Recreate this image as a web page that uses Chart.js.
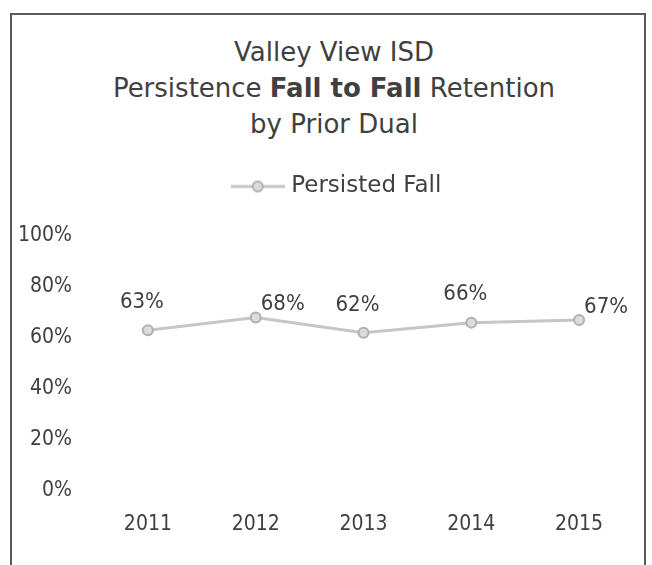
<!DOCTYPE html>
<html>
<head>
<meta charset="utf-8">
<script src="https://cdn.jsdelivr.net/npm/chart.js@4"></script>
<style>
    body { margin: 0; background: #fff; width: 652px; height: 565px; overflow: hidden; position: relative; }
    #box { position: absolute; left: 10px; top: 13px; width: 636px; height: 600px; border: 2px solid #5a5a5a; box-sizing: border-box; }
    #title { position: absolute; left: 8px; top: 34px; width: 652px; text-align: center; color: #404040;
        font-family: 'DejaVu Sans', sans-serif; font-size: 26px; line-height: 36px; }
    #wrap { position: absolute; left: 0; top: 140px; width: 652px; height: 425px; }
</style>
</head>
<body>
<div id="box"></div>
<div id="title">Valley View ISD<br>Persistence <b>Fall to Fall</b> Retention<br>by Prior Dual</div>
<div id="wrap"><canvas id="persistChart"></canvas></div>
<script>
var years = ['2011', '2012', '2013', '2014', '2015'];
var persisted = [63, 68, 62, 66, 67];
var seriesName = 'Persisted Fall';

var fontFam = "'DejaVu Sans Condensed', 'DejaVu Sans', sans-serif";
var textColor = '#404040';
var lineColor = '#c6c6c6';

// legend symbol: line with a circle in the middle
var legendIcon = document.createElement('canvas');
legendIcon.width = 54;
legendIcon.height = 14;
var ic = legendIcon.getContext('2d');
ic.strokeStyle = lineColor;
ic.lineWidth = 3;
ic.beginPath();
ic.moveTo(0, 7);
ic.lineTo(54, 7);
ic.stroke();
ic.beginPath();
ic.arc(27, 7, 5, 0, Math.PI * 2);
ic.fillStyle = '#dcdcdc';
ic.fill();
ic.lineWidth = 2;
ic.strokeStyle = '#b0b0b0';
ic.stroke();

// more room under the legend, and legend a bit right of centre
var legendGap = {
    id: 'legendGap',
    beforeInit: function (chart) {
        var fit = chart.legend.fit;
        chart.legend.fit = function () {
            fit.call(this);
            this.height += 28;
        };
    },
    afterLayout: function (chart) {
        chart.legend.left += 44;
    }
};

// percent labels next to the points
var pointLabels = {
    id: 'pointLabels',
    afterDatasetsDraw: function (chart) {
        var ctx = chart.ctx;
        var meta = chart.getDatasetMeta(0);
        var place = ['above', 'right', 'above', 'above', 'right'];
        ctx.save();
        ctx.font = '22px ' + fontFam;
        ctx.fillStyle = textColor;
        ctx.textBaseline = 'middle';
        meta.data.forEach(function (pt, i) {
            var txt = persisted[i] + '%';
            if (place[i] == 'right') {
                ctx.textAlign = 'left';
                ctx.fillText(txt, pt.x + 5, pt.y - 13);
            } else {
                ctx.textAlign = 'center';
                ctx.fillText(txt, pt.x - 6, pt.y - 28);
            }
        });
        ctx.restore();
    }
};

var persistChart = new Chart(document.getElementById('persistChart').getContext('2d'), {
    type: 'line',
    data: {
        labels: years,
        datasets: [
            {
                label: seriesName,
                data: persisted,
                borderColor: lineColor,
                borderWidth: 3,
                pointRadius: 5,
                pointBorderWidth: 2,
                pointBackgroundColor: '#dcdcdc',
                pointBorderColor: '#b0b0b0',
                pointStyle: 'circle',
                tension: 0
            }
        ]
    },
    options: {
        responsive: true,
        maintainAspectRatio: false,
        animation: false,
        layout: {
            padding: {
                left: 0,
                right: 19,
                top: 0,
                bottom: 15
            }
        },
        scales: {
            x: {
                offset: true,
                grid: { display: false },
                border: { display: false },
                ticks: {
                    color: textColor,
                    padding: 13,
                    font: { family: fontFam, size: 21 }
                }
            },
            y: {
                min: 0,
                max: 100,
                afterFit: function (scale) { scale.width = 94; },
                grid: { display: false },
                border: { display: false },
                ticks: {
                    stepSize: 20,
                    color: textColor,
                    padding: 14,
                    font: { family: fontFam, size: 21 },
                    callback: function (value) {
                        return value + '%';
                    }
                }
            }
        },
        plugins: {
            legend: {
                labels: {
                    color: textColor,
                    usePointStyle: true,
                    pointStyle: legendIcon,
                    pointStyleWidth: 44,
                    padding: 35,
                    font: { family: "'DejaVu Sans', sans-serif", size: 23 },
                    generateLabels: function (chart) {
                        return [{ text: seriesName, pointStyle: legendIcon, fontColor: textColor, datasetIndex: 0, lineWidth: 0 }];
                    }
                }
            },
            tooltip: { enabled: false }
        }
    },
    plugins: [legendGap, pointLabels]
});
</script>
</body>
</html>
